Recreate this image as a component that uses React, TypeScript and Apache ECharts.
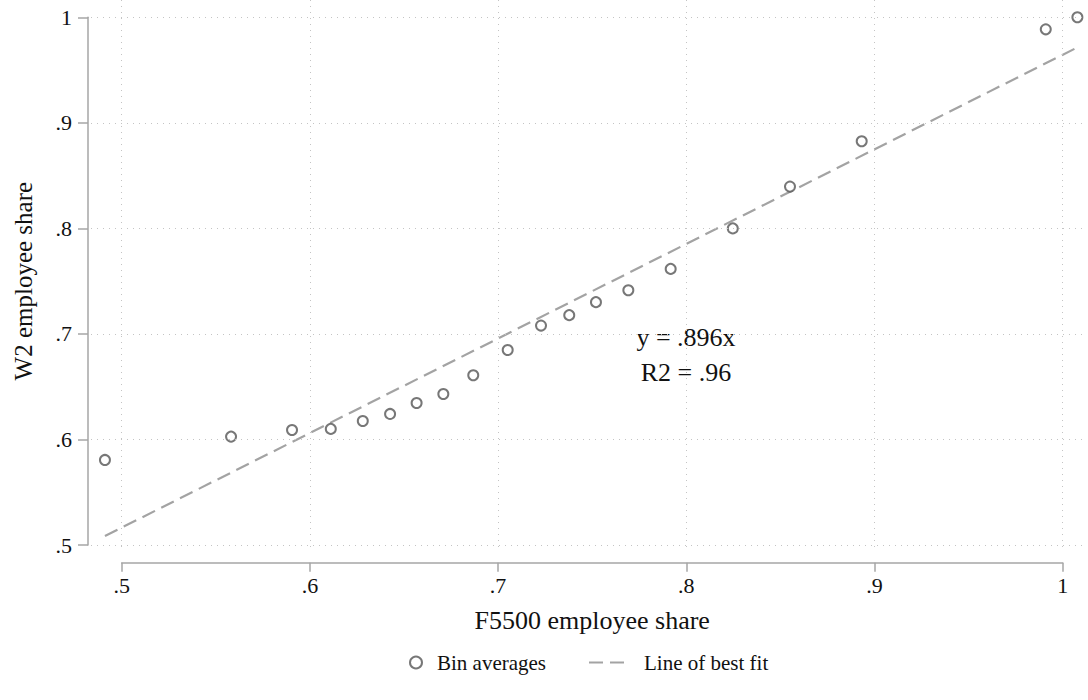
import React, { useEffect, useRef } from "react";
import * as echarts from "echarts";

// ---- data ----
const binX = [0.4911, 0.5581, 0.5905, 0.6111, 0.6281, 0.6426, 0.6567, 0.6709, 0.6868, 0.7051, 0.7228, 0.7378, 0.752, 0.7692, 0.7917, 0.8247, 0.8551, 0.8932, 0.991, 1.0078];
const binY = [0.5806, 0.6027, 0.609, 0.61, 0.6175, 0.6242, 0.6346, 0.6431, 0.6608, 0.6848, 0.7079, 0.7178, 0.7301, 0.7414, 0.7616, 0.8, 0.8396, 0.8826, 0.9886, 1.0];
const fitX = [0.4911, 1.0078];
const fitY = [0.5085, 0.9715];
const xTicks = [0.5, 0.6, 0.7, 0.8, 0.9, 1];
const yTicks = [0.5, 0.6, 0.7, 0.8, 0.9, 1];
const tickLabel = (v: number) => (Math.abs(v - 1) < 1e-9 ? "1" : "." + Math.round(v * 10));
const annotationLines = ["y = .896x", "R2 = .96"];
const xTitle = "F5500 employee share";
const yTitle = "W2 employee share";
const seriesNames = ["Bin averages", "Line of best fit"];

const FONT = "'Liberation Serif', 'Times New Roman', serif";

export default function App() {
  const ref = useRef<HTMLDivElement>(null);
  useEffect(() => {
    if (!ref.current) return;
    const chart = echarts.init(ref.current, undefined, { renderer: "svg" });

    // layout (pixels)
    const W = 1088, H = 700;
    const axL = 121.7, axR = 1062.7, axT = 17.3, axB = 545; // tick range .5..1
    const pxPerX = (axR - axL) / 0.5;
    const pxPerY = (axB - axT) / 0.5;
    const plotL = 91, plotR = 1085, plotT = 0, plotB = 547;
    const xMinA = 0.5 - (axL - plotL) / pxPerX;
    const xMaxA = 1 + (plotR - axR) / pxPerX;
    const yMaxA = 1 + (axT - plotT) / pxPerY;
    const yMinA = 0.5 - (plotB - axB) / pxPerY;

    const gridLine = { color: "#c4c4c4", width: 1, type: [1, 5] as any };
    const axisColor = "#a6a6a6";

    chart.setOption({
      animation: false,
      backgroundColor: "#ffffff",
      textStyle: { fontFamily: FONT },
      grid: [
        { left: plotL, right: W - plotR, top: plotT, bottom: H - plotB },
        { left: axL, right: W - axR, top: axT, bottom: H - axB },
      ],
      xAxis: [
        { type: "value", gridIndex: 0, min: xMinA, max: xMaxA, show: false, splitLine: { show: false } },
        {
          type: "value", gridIndex: 1, min: 0.5, max: 1, interval: 0.1, offset: 17.7,
          axisLine: { show: true, lineStyle: { color: axisColor, width: 1.5 } },
          axisTick: { show: true, length: 9, lineStyle: { color: axisColor, width: 1.5 } },
          axisLabel: { formatter: tickLabel, fontSize: 22, color: "#111", margin: 12, fontFamily: FONT },
          splitLine: { show: false },
          name: xTitle, nameLocation: "middle", nameGap: 45,
          nameTextStyle: { fontSize: 26, color: "#111", fontFamily: FONT },
        },
      ],
      yAxis: [
        { type: "value", gridIndex: 0, min: yMinA, max: yMaxA, show: false, splitLine: { show: false } },
        {
          type: "value", gridIndex: 1, min: 0.5, max: 1, interval: 0.1, offset: axL - 88,
          axisLine: { show: true, lineStyle: { color: axisColor, width: 1.5 } },
          axisTick: { show: true, length: 10, lineStyle: { color: axisColor, width: 1.5 } },
          axisLabel: { formatter: tickLabel, fontSize: 22, color: "#111", margin: 16, fontFamily: FONT },
          splitLine: { show: false },
          name: yTitle, nameLocation: "middle", nameGap: 52,
          nameTextStyle: { fontSize: 25, color: "#111", fontFamily: FONT },
        },
      ],
      legend: [
        {
          data: [seriesNames[0]], left: 404, top: 647, itemWidth: 12, itemHeight: 12,
          textStyle: { fontSize: 21, color: "#111", fontFamily: FONT, padding: [0, 0, 0, 10] },
        },
        {
          data: [seriesNames[1]], left: 583, top: 647, itemWidth: 37, itemHeight: 14,
          itemStyle: { opacity: 0 },
          textStyle: { fontSize: 21, color: "#111", fontFamily: FONT, padding: [0, 0, 0, 13] },
        },
      ],
      series: [
        {
          type: "line", name: "grid", xAxisIndex: 0, yAxisIndex: 0, data: [], silent: true, z: 0,
          markLine: {
            silent: true, symbol: "none", label: { show: false }, animation: false,
            lineStyle: gridLine,
            emphasis: { disabled: true },
            data: [...xTicks.map((v) => ({ xAxis: v })), ...yTicks.map((v) => ({ yAxis: v }))],
          },
        },
        {
          type: "line", name: seriesNames[1], xAxisIndex: 0, yAxisIndex: 0, z: 2,
          data: fitX.map((x, i) => [x, fitY[i]]),
          symbol: "none", showSymbol: false,
          lineStyle: { color: "#a3a3a3", width: 2.2, type: [14, 7] as any },
          itemStyle: { color: "#a3a3a3" },
        },
        {
          type: "scatter", name: seriesNames[0], xAxisIndex: 0, yAxisIndex: 0, z: 3,
          data: binX.map((x, i) => [x, binY[i]]),
          symbol: "emptyCircle", symbolSize: 10,
          itemStyle: { color: "#555555", borderColor: "#555555", borderWidth: 2 },
        },
      ],
      graphic: [
        {
          type: "text", x: 686, y: 337,
          style: { text: annotationLines[0], fontSize: 26, fontFamily: FONT, fill: "#111", textAlign: "center", textVerticalAlign: "middle" },
        },
        {
          type: "text", x: 686, y: 372,
          style: { text: annotationLines[1], fontSize: 26, fontFamily: FONT, fill: "#111", textAlign: "center", textVerticalAlign: "middle" },
        },
      ],
    });
    return () => chart.dispose();
  }, []);
  return <div ref={ref} style={{ position: "fixed", left: 0, top: 0, width: 1088, height: 700 }} />;
}
